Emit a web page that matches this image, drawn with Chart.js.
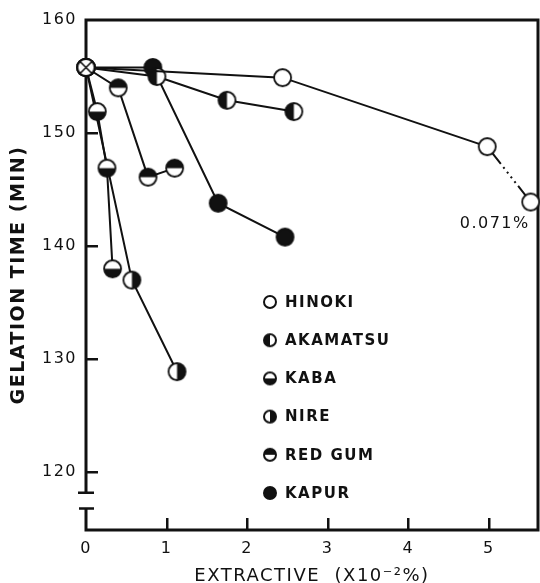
<!DOCTYPE html>
<html>
<head>
<meta charset="utf-8">
<script src="https://cdn.jsdelivr.net/npm/chart.js@4.4.1/dist/chart.umd.min.js"></script>
<style>
  html, body { margin: 0; padding: 0; background: #fff; }
  canvas { display: block; }
</style>
</head>
<body>
<canvas id="gelChart" width="540" height="583"></canvas>
<script>
// Valores (extractivo x10^-2 %, tiempo de gelación en min)
const hinokiX = [0, 2.44, 4.98, 5.52];
const hinokiY = [155.8, 154.9, 148.8, 143.9];
const akamatsuX = [0, 0.88, 1.75, 2.58];
const akamatsuY = [155.8, 155.0, 152.9, 151.9];
const kabaX = [0, 0.14, 0.26, 0.33];
const kabaY = [155.8, 151.9, 146.9, 138.0];
const nireX = [0, 0.57, 1.13];
const nireY = [155.8, 137.0, 128.9];
const redGumX = [0, 0.40, 0.77, 1.10];
const redGumY = [155.8, 154.0, 146.1, 146.9];
const kapurX = [0, 0.83, 1.64, 2.47];
const kapurY = [155.8, 155.8, 143.8, 140.8];

const seriesNames = ['HINOKI', 'AKAMATSU', 'KABA', 'NIRE', 'RED GUM', 'KAPUR'];
const seriesFills = ['none', 'left', 'bottom', 'right', 'top', 'full'];
const xTicks = [0, 1, 2, 3, 4, 5];
const yTicks = [120, 130, 140, 150, 160];
const noteText = '0.071%';

const INK = '#111';

// Marcadores: círculos medio rellenos dibujados en un canvas pequeño
function makeMarker(r, fill, lw) {
    const size = Math.ceil(r * 2 + lw + 2);
    const c = document.createElement('canvas');
    c.width = size; c.height = size;
    const g = c.getContext('2d');
    const m = size / 2;
    g.fillStyle = '#fff';
    g.beginPath(); g.arc(m, m, r, 0, Math.PI * 2); g.fill();
    g.fillStyle = INK;
    const halves = { left: [Math.PI / 2, Math.PI * 1.5], right: [-Math.PI / 2, Math.PI / 2],
                     top: [Math.PI, Math.PI * 2], bottom: [0, Math.PI], full: [0, Math.PI * 2] };
    if (halves[fill]) {
        g.beginPath();
        g.arc(m, m, r, halves[fill][0], halves[fill][1]);
        g.closePath();
        g.fill();
    }
    if (fill === 'cross') {
        g.strokeStyle = INK; g.lineWidth = 1.6;
        const d = r * 0.7;
        g.beginPath();
        g.moveTo(m - d, m - d); g.lineTo(m + d, m + d);
        g.moveTo(m + d, m - d); g.lineTo(m - d, m + d);
        g.stroke();
    }
    g.strokeStyle = INK; g.lineWidth = lw;
    g.beginPath(); g.arc(m, m, r, 0, Math.PI * 2); g.stroke();
    return c;
}

const originMarker = makeMarker(8.5, 'cross', 1.8);
const bigMarkers = seriesFills.map(f => makeMarker(8.5, f, 1.8));
const smallMarkers = seriesFills.map(f => makeMarker(6, f, 2));

const xs = [hinokiX, akamatsuX, kabaX, nireX, redGumX, kapurX];
const ys = [hinokiY, akamatsuY, kabaY, nireY, redGumY, kapurY];

const datasets = seriesNames.map((name, i) => ({
    label: name,
    data: xs[i].map((x, j) => ({ x: x, y: ys[i][j] })),
    borderColor: INK,
    borderWidth: 2,
    tension: 0,
    clip: false,
    pointRadius: 9,
    pointStyle: ctx => ctx.dataIndex === 0 ? originMarker : bigMarkers[i],
    segment: {
        // tramo final punteado de HINOKI
        borderDash: ctx => (i === 0 && ctx.p1DataIndex === 3) ? [22, 4, 2, 4, 2, 4, 2, 4, 2, 4, 40] : undefined
    }
}));

// Marco y eje izquierdo con corte
const framePlugin = {
    id: 'frame',
    beforeUpdate(chart) {
        chart.ctx.letterSpacing = '1.5px';
    },
    beforeDatasetsDraw(chart) {
        const { ctx, chartArea: a, scales } = chart;
        const sx = scales.x, sy = scales.y;
        const axX = sx.getPixelForValue(0);
        const breakTop = sy.getPixelForValue(118.2);
        const breakBot = sy.getPixelForValue(116.8);
        ctx.save();
        ctx.setLineDash([]);
        ctx.strokeStyle = INK;
        ctx.lineWidth = 3;
        ctx.beginPath();
        ctx.moveTo(axX, breakTop);
        ctx.lineTo(axX, a.top);
        ctx.lineTo(a.right, a.top);
        ctx.lineTo(a.right, a.bottom);
        ctx.lineTo(axX, a.bottom);
        ctx.lineTo(axX, breakBot);
        ctx.stroke();
        ctx.lineWidth = 2.5;
        ctx.beginPath();
        ctx.moveTo(axX - 8, breakTop); ctx.lineTo(axX + 8, breakTop);
        ctx.moveTo(axX - 7, breakBot); ctx.lineTo(axX + 8, breakBot);
        ctx.stroke();
        // marcas interiores de los ejes
        ctx.fillStyle = INK;
        for (const v of xTicks.slice(1)) {
            const px = Math.round(sx.getPixelForValue(v));
            ctx.fillRect(px - 1, a.bottom - 12, 2.5, 12);
        }
        for (const v of yTicks.slice(0, -1)) {
            const py = Math.round(sy.getPixelForValue(v));
            ctx.fillRect(axX, py - 1, 12, 2.5);
        }
        ctx.restore();
    },
    afterDraw(chart) {
        const { ctx, chartArea: a, scales } = chart;
        const sx = scales.x, sy = scales.y;
        ctx.save();
        ctx.fillStyle = INK;
        ctx.textBaseline = 'middle';
        // nota junto al último punto de HINOKI
        const n = hinokiX.length - 1;
        ctx.font = '16px "DejaVu Sans"';
        ctx.textAlign = 'center';
        ctx.fillText(noteText, sx.getPixelForValue(hinokiX[n]) - 36, sy.getPixelForValue(hinokiY[n]) + 22);
        // leyenda
        ctx.font = 'bold 15px "DejaVu Sans"';
        ctx.textAlign = 'left';
        const lx = a.left + 184, ly = a.top + 282, step = 38.2;
        seriesNames.forEach((name, i) => {
            const m = smallMarkers[i];
            const cy = ly + i * step;
            ctx.drawImage(m, lx - m.width / 2, cy - m.height / 2);
            ctx.fillText(name, lx + 15, cy + 1);
        });
        ctx.restore();
    }
};

const chart = new Chart(document.getElementById('gelChart'), {
    type: 'line',
    data: { datasets: datasets },
    options: {
        responsive: false,
        animation: false,
        layout: { autoPadding: false, padding: { top: 20, right: 2, left: 0, bottom: 0 } },
        plugins: { legend: { display: false }, tooltip: { enabled: false } },
        scales: {
            x: {
                type: 'linear',
                min: 0,
                max: 5.61,
                afterBuildTicks: s => { s.ticks = xTicks.map(v => ({ value: v })); },
                afterFit: s => { s.height = 53; s.paddingLeft = 0; s.paddingRight = 0; },
                grid: { display: false, drawTicks: false },
                border: { display: false },
                ticks: { color: INK, padding: 9, font: { family: 'DejaVu Sans', size: 16 } },
                title: {
                    display: true,
                    text: 'EXTRACTIVE  (X10⁻²%)',
                    color: INK,
                    padding: { top: 0, bottom: -2 },
                    font: { family: 'DejaVu Sans', size: 18, lineHeight: 1 }
                }
            },
            y: {
                type: 'linear',
                min: 114.9,
                max: 160,
                afterBuildTicks: s => { s.ticks = yTicks.map(v => ({ value: v })); },
                afterFit: s => { s.width = 86; s.paddingTop = 0; s.paddingBottom = 0; },
                grid: { display: false, drawTicks: false },
                border: { display: false },
                ticks: { color: INK, padding: 9, font: { family: 'DejaVu Sans', size: 16 } },
                title: {
                    display: true,
                    text: 'GELATION TIME (MIN)',
                    color: INK,
                    padding: { top: 9, bottom: 0 },
                    font: { family: 'DejaVu Sans', size: 19, weight: 'bold', lineHeight: 1.1 }
                }
            }
        }
    },
    plugins: [framePlugin]
});
</script>
</body>
</html>
